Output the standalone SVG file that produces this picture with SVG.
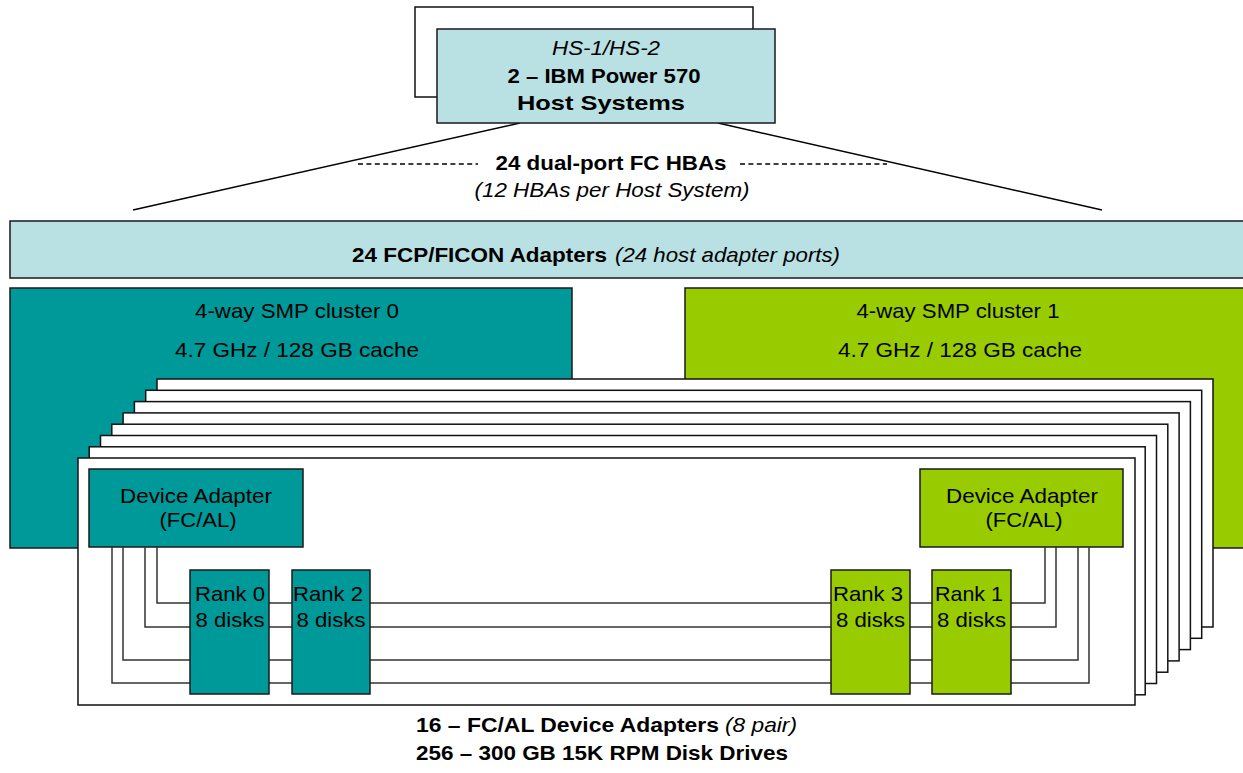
<svg xmlns="http://www.w3.org/2000/svg" width="1243" height="773" viewBox="0 0 1243 773">
<style>
  text { font-family: "Liberation Sans", Arial, sans-serif; font-size: 21px; fill: #000; }
  .b { font-weight: bold; }
  .i { font-style: italic; }
  .m { text-anchor: middle; }
  .light { fill: #B9E0E3; stroke: #1a1a1a; stroke-width: 1.5; }
  .teal { fill: #009999; stroke: #1a1a1a; stroke-width: 1.5; }
  .green { fill: #99CC00; stroke: #1a1a1a; stroke-width: 1.5; }
  .frame { fill: #ffffff; stroke: #111; stroke-width: 1.5; }
  .wire { fill: none; stroke: #333; stroke-width: 1.5; }
  .line { fill: none; stroke: #000; stroke-width: 1.5; }
  .dash { fill: none; stroke: #000; stroke-width: 1.3; stroke-dasharray: 5 3.4; }
</style>
<rect width="1243" height="773" fill="#ffffff"/>

<g id="connectors-host">
  <line class="line" x1="520" y1="123" x2="133" y2="210"/>
  <line class="line" x1="718" y1="123" x2="1102" y2="210"/>
  <line class="dash" x1="358" y1="164" x2="478" y2="164"/>
  <line class="dash" x1="740" y1="164" x2="887" y2="164"/>
</g>

<g id="host-systems">
  <rect class="frame" x="415" y="7" width="338" height="90"/>
  <rect class="light" x="437" y="29" width="338" height="94"/>
  <text class="i m" x="606" y="55" textLength="108" lengthAdjust="spacingAndGlyphs">HS-1/HS-2</text>
  <text class="b m" x="604" y="83" textLength="193" lengthAdjust="spacingAndGlyphs">2 – IBM Power 570</text>
  <text class="b m" x="601" y="110" textLength="168" lengthAdjust="spacingAndGlyphs">Host Systems</text>
</g>

<g id="hba-label">
  <text class="b m" x="611" y="170" textLength="231" lengthAdjust="spacingAndGlyphs">24 dual-port FC HBAs</text>
  <text class="i m" x="612" y="197" textLength="275" lengthAdjust="spacingAndGlyphs">(12 HBAs per Host System)</text>
</g>

<g id="fcp-adapters">
  <rect class="light" x="10" y="221" width="1240" height="57"/>
  <text class="b" x="352" y="262" textLength="255" lengthAdjust="spacingAndGlyphs">24 FCP/FICON Adapters</text>
  <text class="i" x="615" y="262" textLength="225" lengthAdjust="spacingAndGlyphs">(24 host adapter ports)</text>
</g>

<g id="cluster-0">
  <rect class="teal" x="10" y="288" width="562" height="260"/>
  <text class="m" x="297" y="318" textLength="204" lengthAdjust="spacingAndGlyphs">4-way SMP cluster 0</text>
  <text class="m" x="297" y="357" textLength="244" lengthAdjust="spacingAndGlyphs">4.7 GHz / 128 GB cache</text>
</g>

<g id="cluster-1">
  <rect class="green" x="685" y="288" width="600" height="260"/>
  <text class="m" x="958" y="318" textLength="203" lengthAdjust="spacingAndGlyphs">4-way SMP cluster 1</text>
  <text class="m" x="960" y="357" textLength="244" lengthAdjust="spacingAndGlyphs">4.7 GHz / 128 GB cache</text>
</g>

<g id="adapter-frames">
  <rect class="frame" x="157" y="379" width="1056" height="248"/>
  <rect class="frame" x="145.7" y="390.3" width="1056" height="248"/>
  <rect class="frame" x="134.4" y="401.6" width="1056" height="248"/>
  <rect class="frame" x="123.1" y="412.9" width="1056" height="248"/>
  <rect class="frame" x="111.8" y="424.2" width="1056" height="248"/>
  <rect class="frame" x="100.5" y="435.5" width="1056" height="248"/>
  <rect class="frame" x="89.2" y="446.8" width="1056" height="248"/>
  <rect class="frame" x="78" y="458" width="1057" height="247"/>
</g>

<g id="device-adapter-left">
  <rect class="teal" x="89" y="469" width="214" height="78"/>
  <text class="m" x="196" y="503" textLength="152" lengthAdjust="spacingAndGlyphs">Device Adapter</text>
  <text class="m" x="198" y="527" textLength="77" lengthAdjust="spacingAndGlyphs">(FC/AL)</text>
</g>

<g id="device-adapter-right">
  <rect class="green" x="920" y="469" width="203" height="78"/>
  <text class="m" x="1022" y="503" textLength="152" lengthAdjust="spacingAndGlyphs">Device Adapter</text>
  <text class="m" x="1024" y="527" textLength="77" lengthAdjust="spacingAndGlyphs">(FC/AL)</text>
</g>

<g id="connectors-loops">
  <polyline class="wire" points="157,547 157,603 1045,603 1045,547"/>
  <polyline class="wire" points="145,547 145,627 1056,627 1056,547"/>
  <polyline class="wire" points="123,547 123,660 1078,660 1078,547"/>
  <polyline class="wire" points="112,547 112,683 1089,683 1089,547"/>
</g>

<g id="rank-0">
  <rect class="teal" x="190" y="570" width="79" height="124"/>
  <text class="m" x="230" y="601" textLength="70" lengthAdjust="spacingAndGlyphs">Rank 0</text>
  <text class="m" x="230" y="627" textLength="69" lengthAdjust="spacingAndGlyphs">8 disks</text>
</g>

<g id="rank-2">
  <rect class="teal" x="292" y="570" width="78" height="124"/>
  <text class="m" x="328" y="601" textLength="70" lengthAdjust="spacingAndGlyphs">Rank 2</text>
  <text class="m" x="331" y="627" textLength="69" lengthAdjust="spacingAndGlyphs">8 disks</text>
</g>

<g id="rank-3">
  <rect class="green" x="831" y="570" width="79" height="124"/>
  <text class="m" x="868" y="601" textLength="70" lengthAdjust="spacingAndGlyphs">Rank 3</text>
  <text class="m" x="870.5" y="627" textLength="69" lengthAdjust="spacingAndGlyphs">8 disks</text>
</g>

<g id="rank-1">
  <rect class="green" x="932" y="570" width="79" height="124"/>
  <text class="m" x="969" y="601" textLength="68" lengthAdjust="spacingAndGlyphs">Rank 1</text>
  <text class="m" x="971.5" y="627" textLength="69" lengthAdjust="spacingAndGlyphs">8 disks</text>
</g>

<g id="footer">
  <text class="b" x="416" y="732" textLength="303" lengthAdjust="spacingAndGlyphs">16 – FC/AL Device Adapters</text>
  <text class="i" x="725" y="732" textLength="72" lengthAdjust="spacingAndGlyphs">(8 pair)</text>
  <text class="b" x="416" y="760" textLength="372" lengthAdjust="spacingAndGlyphs">256 – 300 GB 15K RPM Disk Drives</text>
</g>
</svg>
